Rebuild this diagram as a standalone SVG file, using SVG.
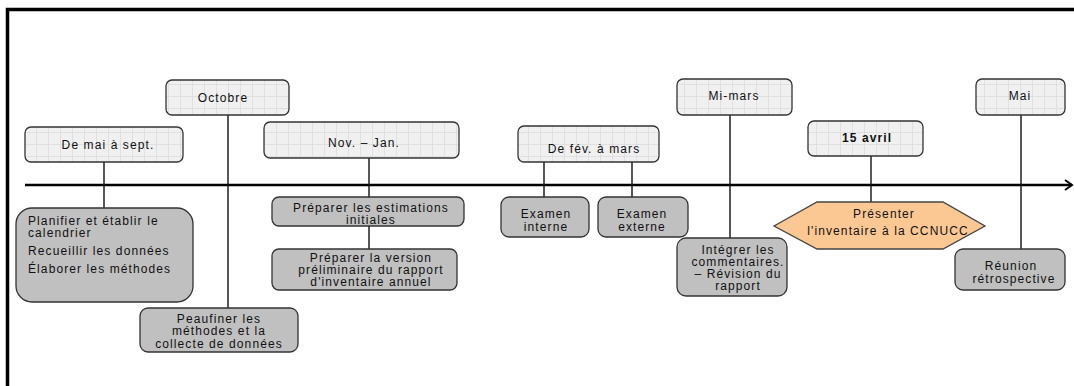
<svg xmlns="http://www.w3.org/2000/svg" width="1074" height="386" viewBox="0 0 1074 386">
<style>
text{font-family:"Liberation Sans",Arial,sans-serif;font-size:12px;fill:#111;letter-spacing:1.1px}
.c{text-anchor:middle}
.b{font-weight:bold}
.top{fill:url(#grid);stroke:#333;stroke-width:1.3}
.bot{fill:#c0c0c0;stroke:#333;stroke-width:1.3}
.ln{stroke:#111;stroke-width:1.4;fill:none}
</style>
<defs>
<pattern id="grid" patternUnits="userSpaceOnUse" width="12" height="12">
<rect width="12" height="12" fill="#f0f0f0"/>
<path d="M0 0.5H12M0.5 0V12" stroke="#dcdcdc" stroke-width="0.8" fill="none"/>
</pattern>
<marker id="arr" markerWidth="10" markerHeight="12" refX="8" refY="6" orient="auto" markerUnits="userSpaceOnUse">
<path d="M1 1 L8 6 L1 11" fill="none" stroke="#000" stroke-width="2"/>
</marker>
</defs>
<rect width="1074" height="386" fill="#fff"/>
<path d="M7.5 386 V9.5 H1074" fill="none" stroke="#000" stroke-width="3.5"/>
<g id="connectors">
<line x1="25" y1="185" x2="1072" y2="185" stroke="#000" stroke-width="2.7" marker-end="url(#arr)"/>
<line class="ln" x1="104" y1="162" x2="104" y2="208"/>
<line class="ln" x1="228" y1="115" x2="228" y2="308"/>
<line class="ln" x1="369" y1="158" x2="369" y2="249"/>
<line class="ln" x1="544" y1="162" x2="544" y2="197"/>
<line class="ln" x1="632" y1="162" x2="632" y2="197"/>
<line class="ln" x1="730" y1="115" x2="730" y2="238"/>
<line class="ln" x1="871" y1="156" x2="871" y2="202"/>
<line class="ln" x1="1021" y1="115" x2="1021" y2="249"/>
</g>
<g id="n-maisept"><rect class="top" x="25" y="127" width="158" height="35" rx="6"/><text class="c" x="108" y="149">De mai à sept.</text></g>
<g id="n-octobre"><rect class="top" x="166" y="80" width="123" height="35" rx="6"/><text class="c" x="223" y="102">Octobre</text></g>
<g id="n-novjan"><rect class="top" x="264" y="122" width="195" height="36" rx="6"/><text class="c" x="364" y="147">Nov. – Jan.</text></g>
<g id="n-fevmars"><rect class="top" x="518" y="126" width="141" height="36" rx="6"/><text class="c" x="594" y="153">De fév. à mars</text></g>
<g id="n-mimars"><rect class="top" x="677" y="79" width="115" height="36" rx="6"/><text class="c" x="734" y="100">Mi-mars</text></g>
<g id="n-15avril"><rect class="top" x="808" y="121" width="115" height="35" rx="6"/><text class="c b" x="867" y="142">15 avril</text></g>
<g id="n-mai"><rect class="top" x="976" y="79" width="89" height="36" rx="6"/><text class="c" x="1020" y="100">Mai</text></g>
<g id="n-planifier"><rect class="bot" x="16" y="208" width="177" height="94" rx="16"/>
<text x="28" y="224.5">Planifier et établir le</text><text x="28" y="236.5">calendrier</text><text x="28" y="254.5">Recueillir les données</text><text x="28" y="272.5">Élaborer les méthodes</text></g>
<g id="n-peaufiner"><rect class="bot" x="140" y="308" width="158" height="44" rx="8"/>
<text class="c" x="219" y="322.5">Peaufiner les</text><text class="c" x="219" y="335">méthodes et la</text><text class="c" x="219" y="347.5">collecte de données</text></g>
<g id="n-estimations"><rect class="bot" x="272" y="197" width="192" height="29" rx="7"/>
<text class="c" x="371" y="211.5">Préparer les estimations</text><text class="c" x="371" y="223.5">initiales</text></g>
<g id="n-version"><rect class="bot" x="272" y="249" width="185" height="41" rx="7"/>
<text class="c" x="371" y="261.5">Préparer la version</text><text class="c" x="371" y="273.5">préliminaire du rapport</text><text class="c" x="371" y="285.5">d'inventaire annuel</text></g>
<g id="n-interne"><rect class="bot" x="501" y="197" width="88" height="40" rx="8"/>
<text class="c" x="546" y="218">Examen</text><text class="c" x="546" y="230.5">interne</text></g>
<g id="n-externe"><rect class="bot" x="598" y="197" width="90" height="40" rx="8"/>
<text class="c" x="642" y="218">Examen</text><text class="c" x="642" y="230.5">externe</text></g>
<g id="n-integrer"><rect class="bot" x="677" y="238" width="110" height="58" rx="9"/>
<text class="c" x="738" y="253.5">Intégrer les</text><text class="c" x="738" y="265.5">commentaires.</text><text class="c" x="738" y="278">– Révision du</text><text class="c" x="738" y="290">rapport</text></g>
<g id="n-presenter"><polygon points="774,226 817,202 943,202 985,226 943,249 817,249" fill="#fbc894" stroke="#444" stroke-width="1.3"/>
<text class="c" x="884" y="218">Présenter</text><text class="c" x="888" y="235">l'inventaire à la CCNUCC</text></g>
<g id="n-reunion"><rect class="bot" x="955" y="249" width="110" height="41" rx="8"/>
<text class="c" x="1011" y="270">Réunion</text><text class="c" x="1014" y="282.5">rétrospective</text></g>
</svg>
